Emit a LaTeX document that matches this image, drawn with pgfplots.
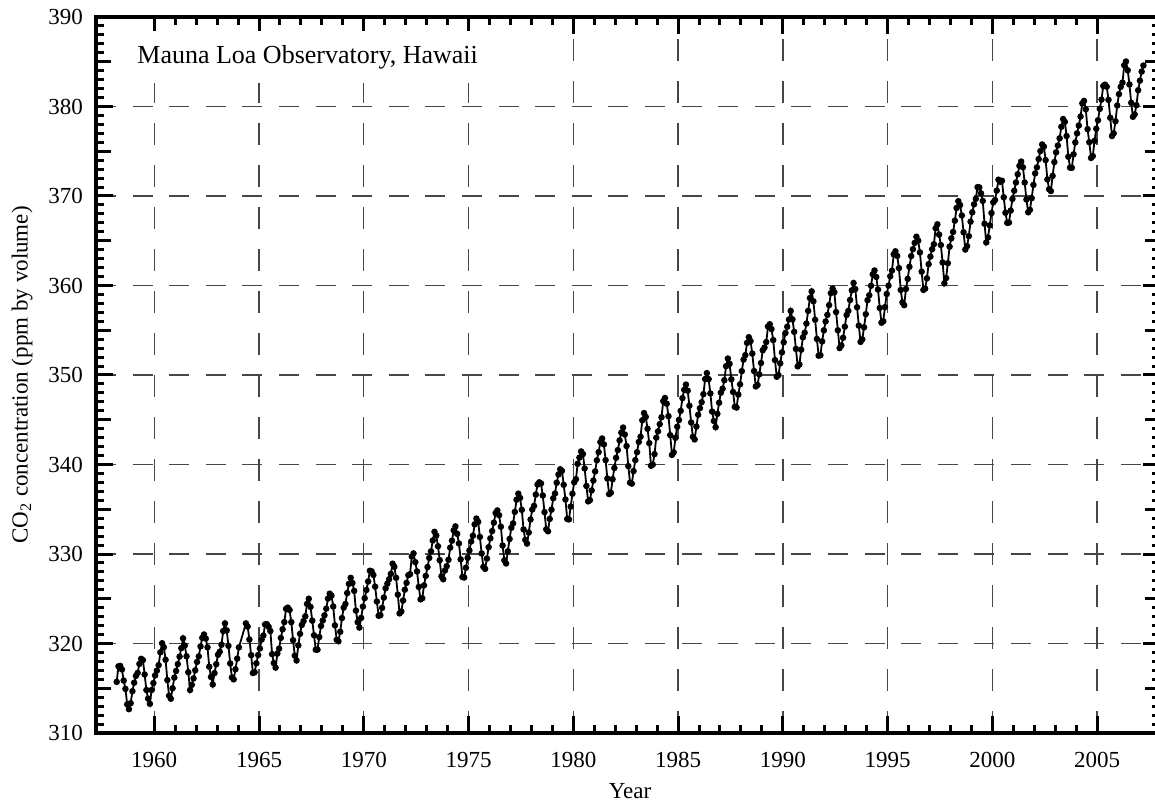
\documentclass[border=0pt]{standalone}
\usepackage{pgfplots}
\usepackage{pgfplotstable}
\pgfplotsset{compat=1.18}
\usepackage{fontspec}
\setmainfont{Liberation Serif}

\pgfplotstableread{
y m c
1958 3 315.71
1958 4 317.45
1958 5 317.50
1958 6 317.10
1958 7 315.86
1958 8 314.93
1958 9 313.20
1958 10 312.66
1958 11 313.33
1958 12 314.67
1959 1 315.62
1959 2 316.38
1959 3 316.71
1959 4 317.72
1959 5 318.29
1959 6 318.15
1959 7 316.54
1959 8 314.80
1959 9 313.84
1959 10 313.26
1959 11 314.80
1959 12 315.58
1960 1 316.43
1960 2 316.97
1960 3 317.58
1960 4 319.02
1960 5 320.03
1960 6 319.59
1960 7 318.18
1960 8 315.91
1960 9 314.16
1960 10 313.83
1960 11 315.00
1960 12 316.19
1961 1 316.93
1961 2 317.70
1961 3 318.54
1961 4 319.48
1961 5 320.58
1961 6 319.77
1961 7 318.57
1961 8 316.79
1961 9 314.80
1961 10 315.38
1961 11 316.10
1961 12 317.01
1962 1 317.94
1962 2 318.56
1962 3 319.68
1962 4 320.63
1962 5 321.01
1962 6 320.55
1962 7 319.58
1962 8 317.40
1962 9 316.26
1962 10 315.42
1962 11 316.69
1962 12 317.69
1963 1 318.74
1963 2 319.08
1963 3 319.86
1963 4 321.39
1963 5 322.25
1963 6 321.47
1963 7 319.74
1963 8 317.77
1963 9 316.21
1963 10 315.99
1963 11 317.12
1963 12 318.31
1964 1 319.57
1964 5 322.25
1964 6 321.89
1964 7 320.44
1964 8 318.70
1964 9 316.70
1964 10 316.79
1964 11 317.79
1964 12 318.71
1965 1 319.44
1965 2 320.44
1965 3 320.89
1965 4 322.13
1965 5 322.16
1965 6 321.87
1965 7 321.39
1965 8 318.81
1965 9 317.81
1965 10 317.30
1965 11 318.87
1965 12 319.42
1966 1 320.62
1966 2 321.59
1966 3 322.39
1966 4 323.87
1966 5 324.01
1966 6 323.75
1966 7 322.39
1966 8 320.37
1966 9 318.64
1966 10 318.10
1966 11 319.79
1966 12 321.08
1967 1 322.07
1967 2 322.50
1967 3 323.04
1967 4 324.42
1967 5 325.00
1967 6 324.09
1967 7 322.55
1967 8 320.92
1967 9 319.31
1967 10 319.31
1967 11 320.72
1967 12 321.96
1968 1 322.57
1968 2 323.15
1968 3 323.89
1968 4 325.02
1968 5 325.57
1968 6 325.36
1968 7 324.14
1968 8 322.03
1968 9 320.41
1968 10 320.25
1968 11 321.31
1968 12 322.84
1969 1 324.00
1969 2 324.42
1969 3 325.64
1969 4 326.66
1969 5 327.34
1969 6 326.76
1969 7 325.88
1969 8 323.67
1969 9 322.38
1969 10 321.78
1969 11 322.86
1969 12 324.12
1970 1 325.06
1970 2 325.98
1970 3 326.93
1970 4 328.13
1970 5 328.07
1970 6 327.66
1970 7 326.35
1970 8 324.69
1970 9 323.10
1970 10 323.16
1970 11 323.98
1970 12 325.13
1971 1 326.17
1971 2 326.68
1971 3 327.18
1971 4 327.78
1971 5 328.92
1971 6 328.57
1971 7 327.34
1971 8 325.46
1971 9 323.36
1971 10 323.57
1971 11 324.80
1971 12 326.01
1972 1 326.77
1972 2 327.63
1972 3 327.75
1972 4 329.72
1972 5 330.07
1972 6 329.09
1972 7 328.05
1972 8 326.32
1972 9 324.93
1972 10 325.06
1972 11 326.50
1972 12 327.55
1973 1 328.54
1973 2 329.56
1973 3 330.30
1973 4 331.50
1973 5 332.48
1973 6 332.07
1973 7 330.87
1973 8 329.31
1973 9 327.51
1973 10 327.18
1973 11 328.16
1973 12 328.64
1974 1 329.35
1974 2 330.71
1974 3 331.48
1974 4 332.65
1974 5 333.09
1974 6 332.25
1974 7 331.18
1974 8 329.40
1974 9 327.43
1974 10 327.37
1974 11 328.46
1974 12 329.57
1975 1 330.40
1975 2 331.40
1975 3 332.04
1975 4 333.31
1975 5 333.96
1975 6 333.59
1975 7 331.91
1975 8 330.06
1975 9 328.56
1975 10 328.34
1975 11 329.49
1975 12 330.76
1976 1 331.75
1976 2 332.56
1976 3 333.50
1976 4 334.58
1976 5 334.87
1976 6 334.34
1976 7 333.05
1976 8 330.94
1976 9 329.30
1976 10 328.94
1976 11 330.31
1976 12 331.68
1977 1 332.93
1977 2 333.42
1977 3 334.70
1977 4 336.07
1977 5 336.74
1977 6 336.27
1977 7 334.93
1977 8 332.75
1977 9 331.58
1977 10 331.16
1977 11 332.40
1977 12 333.85
1978 1 334.97
1978 2 335.38
1978 3 336.64
1978 4 337.76
1978 5 338.01
1978 6 337.89
1978 7 336.54
1978 8 334.68
1978 9 332.76
1978 10 332.54
1978 11 333.92
1978 12 334.95
1979 1 336.23
1979 2 336.76
1979 3 337.96
1979 4 338.89
1979 5 339.47
1979 6 339.29
1979 7 337.73
1979 8 336.09
1979 9 333.91
1979 10 333.86
1979 11 335.29
1979 12 336.73
1980 1 338.01
1980 2 338.36
1980 3 340.08
1980 4 340.77
1980 5 341.46
1980 6 341.17
1980 7 339.56
1980 8 337.60
1980 9 335.88
1980 10 336.01
1980 11 337.10
1980 12 338.21
1981 1 339.23
1981 2 340.47
1981 3 341.38
1981 4 342.51
1981 5 342.91
1981 6 342.25
1981 7 340.49
1981 8 338.43
1981 9 336.69
1981 10 336.85
1981 11 338.36
1981 12 339.61
1982 1 340.75
1982 2 341.61
1982 3 342.70
1982 4 343.56
1982 5 344.13
1982 6 343.35
1982 7 342.06
1982 8 339.82
1982 9 337.97
1982 10 337.86
1982 11 339.26
1982 12 340.49
1983 1 341.38
1983 2 342.52
1983 3 343.10
1983 4 344.94
1983 5 345.75
1983 6 345.32
1983 7 343.99
1983 8 342.39
1983 9 339.86
1983 10 339.99
1983 11 341.16
1983 12 342.99
1984 1 343.70
1984 2 344.51
1984 3 345.28
1984 4 347.08
1984 5 347.43
1984 6 346.79
1984 7 345.40
1984 8 343.28
1984 9 341.07
1984 10 341.35
1984 11 342.98
1984 12 344.22
1985 1 344.97
1985 2 345.99
1985 3 347.42
1985 4 348.35
1985 5 348.93
1985 6 348.25
1985 7 346.56
1985 8 344.69
1985 9 343.09
1985 10 342.80
1985 11 344.24
1985 12 345.56
1986 1 346.29
1986 2 346.96
1986 3 347.86
1986 4 349.55
1986 5 350.21
1986 6 349.54
1986 7 347.94
1986 8 345.91
1986 9 344.86
1986 10 344.17
1986 11 345.66
1986 12 346.90
1987 1 348.02
1987 2 348.47
1987 3 349.42
1987 4 350.99
1987 5 351.84
1987 6 351.25
1987 7 349.52
1987 8 348.10
1987 9 346.44
1987 10 346.36
1987 11 347.81
1987 12 348.96
1988 1 350.43
1988 2 351.72
1988 3 352.22
1988 4 353.59
1988 5 354.22
1988 6 353.79
1988 7 352.39
1988 8 350.44
1988 9 348.72
1988 10 348.88
1988 11 350.07
1988 12 351.34
1989 1 352.76
1989 2 353.07
1989 3 353.68
1989 4 355.42
1989 5 355.67
1989 6 355.13
1989 7 353.90
1989 8 351.67
1989 9 349.80
1989 10 349.99
1989 11 351.30
1989 12 352.53
1990 1 353.66
1990 2 354.70
1990 3 355.39
1990 4 356.20
1990 5 357.16
1990 6 356.22
1990 7 354.82
1990 8 352.91
1990 9 350.96
1990 10 351.18
1990 11 352.83
1990 12 354.21
1991 1 354.72
1991 2 355.75
1991 3 357.16
1991 4 358.60
1991 5 359.34
1991 6 358.24
1991 7 356.17
1991 8 354.03
1991 9 352.16
1991 10 352.21
1991 11 353.75
1991 12 354.99
1992 1 355.98
1992 2 356.72
1992 3 357.81
1992 4 359.15
1992 5 359.66
1992 6 359.25
1992 7 357.03
1992 8 355.00
1992 9 353.01
1992 10 353.31
1992 11 354.16
1992 12 355.40
1993 1 356.70
1993 2 357.16
1993 3 358.38
1993 4 359.46
1993 5 360.28
1993 6 359.60
1993 7 357.57
1993 8 355.52
1993 9 353.70
1993 10 353.98
1993 11 355.33
1993 12 356.80
1994 1 358.36
1994 2 358.91
1994 3 359.97
1994 4 361.26
1994 5 361.68
1994 6 360.95
1994 7 359.55
1994 8 357.49
1994 9 355.84
1994 10 356.00
1994 11 357.59
1994 12 359.05
1995 1 359.98
1995 2 361.03
1995 3 361.66
1995 4 363.48
1995 5 363.82
1995 6 363.30
1995 7 361.94
1995 8 359.50
1995 9 358.11
1995 10 357.80
1995 11 359.61
1995 12 360.74
1996 1 362.09
1996 2 363.29
1996 3 364.06
1996 4 364.76
1996 5 365.45
1996 6 365.01
1996 7 363.70
1996 8 361.54
1996 9 359.51
1996 10 359.65
1996 11 360.80
1996 12 362.38
1997 1 363.23
1997 2 364.06
1997 3 364.61
1997 4 366.40
1997 5 366.84
1997 6 365.68
1997 7 364.52
1997 8 362.57
1997 9 360.24
1997 10 360.83
1997 11 362.49
1997 12 364.34
1998 1 365.27
1998 2 365.98
1998 3 367.24
1998 4 368.66
1998 5 369.42
1998 6 368.99
1998 7 367.82
1998 8 365.95
1998 9 364.02
1998 10 364.40
1998 11 365.52
1998 12 367.13
1999 1 368.18
1999 2 369.07
1999 3 369.68
1999 4 370.99
1999 5 370.96
1999 6 370.30
1999 7 369.45
1999 8 366.90
1999 9 364.81
1999 10 365.37
1999 11 366.72
1999 12 368.10
2000 1 369.29
2000 2 369.55
2000 3 370.60
2000 4 371.82
2000 5 371.58
2000 6 371.70
2000 7 369.86
2000 8 368.13
2000 9 367.00
2000 10 367.03
2000 11 368.37
2000 12 369.67
2001 1 370.59
2001 2 371.51
2001 3 372.43
2001 4 373.37
2001 5 373.85
2001 6 373.21
2001 7 371.51
2001 8 369.61
2001 9 368.18
2001 10 368.45
2001 11 369.76
2001 12 371.24
2002 1 372.53
2002 2 373.20
2002 3 374.12
2002 4 375.02
2002 5 375.76
2002 6 375.52
2002 7 374.01
2002 8 371.85
2002 9 370.75
2002 10 370.55
2002 11 372.25
2002 12 373.79
2003 1 374.88
2003 2 375.64
2003 3 376.45
2003 4 377.73
2003 5 378.60
2003 6 378.28
2003 7 376.70
2003 8 374.38
2003 9 373.17
2003 10 373.15
2003 11 374.66
2003 12 375.99
2004 1 377.00
2004 2 377.87
2004 3 378.88
2004 4 380.35
2004 5 380.62
2004 6 379.69
2004 7 377.47
2004 8 376.01
2004 9 374.25
2004 10 374.46
2004 11 376.16
2004 12 377.51
2005 1 378.46
2005 2 379.73
2005 3 380.77
2005 4 382.29
2005 5 382.45
2005 6 382.21
2005 7 380.74
2005 8 378.74
2005 9 376.70
2005 10 377.00
2005 11 378.35
2005 12 380.11
2006 1 381.38
2006 2 382.19
2006 3 382.67
2006 4 384.61
2006 5 385.03
2006 6 384.05
2006 7 382.46
2006 8 380.41
2006 9 378.85
2006 10 379.13
2006 11 380.15
2006 12 381.82
2007 1 382.89
2007 2 383.90
2007 3 384.58
}\co

\begin{document}
\begin{tikzpicture}
\begin{axis}[
  at={(0,0)}, anchor=south west,
  scale only axis,
  width=532pt, height=358pt,
  xmin=1957.22, xmax=2008,
  ymin=310, ymax=390,
  xtick={1960,1965,...,2005},
  ytick={310,320,...,390},
  minor x tick num=4,
  minor y tick num=9,
  extra y ticks={315,325,...,385},
  extra y tick labels={},
  extra tick style={grid=none, major tick length=7.5pt},
  major tick length=8.5pt,
  minor tick length=4pt,
  every tick/.style={black, line width=1.5pt},
  axis line style={line width=2pt},
  tick align=inside,
  /pgf/number format/assume math mode=true,
  /pgf/number format/set thousands separator={},
  ticklabel style={font=\fontsize{11.5}{13}\selectfont},
  xticklabel style={yshift=-6pt},
  yticklabel style={xshift=-3pt},
  label style={font=\fontsize{11.5}{13}\selectfont},
  xlabel={Year},
  xlabel style={at={(axis description cs:0.502,0)}, anchor=center, yshift=-29pt},
  ylabel={CO\textsubscript{2} concentration (ppm by volume)},
  ylabel style={at={(axis description cs:-0.0695,0.5)}, anchor=center, rotate=0},
  grid=major,
  x grid style={black!72, line width=0.7pt, dash pattern=on 11pt off 10pt},
  y grid style={black!72, line width=0.7pt, dash pattern=on 10pt off 8.3pt},
  clip=true,
]
\addplot[black, line width=0.9pt, mark=*, mark size=1.15pt]
  table[x expr={\thisrow{y}+(\thisrow{m}-0.5)/12}, y=c] {\co};
\node[anchor=west, fill=white, inner xsep=4pt, inner ysep=7pt, font=\fontsize{13}{15}\selectfont] at (axis description cs:0.0310,0.944) {Mauna Loa Observatory, Hawaii};
\end{axis}
\pgfresetboundingbox
\path (-48pt,-34.5pt) rectangle (529.5pt,366.5pt);
\end{tikzpicture}
\end{document}
